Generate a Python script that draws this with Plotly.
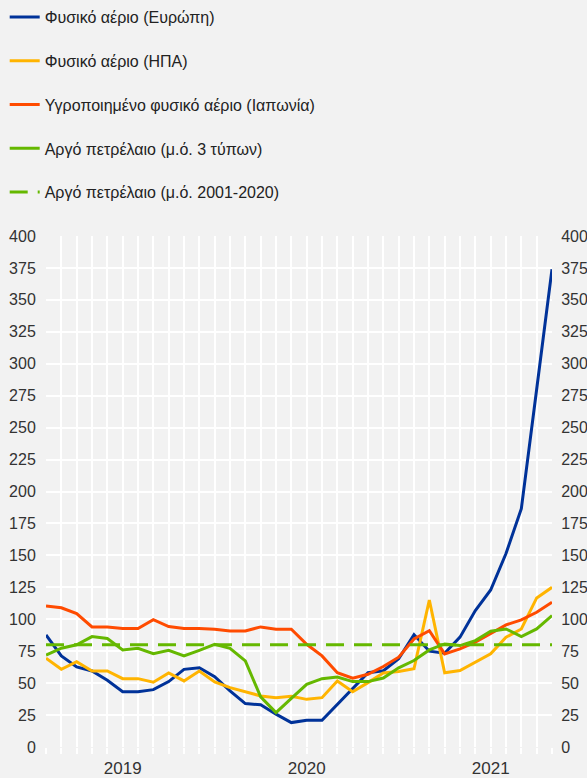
import plotly.graph_objects as go

months = [f"{y}-{m:02d}" for y in (2019, 2020, 2021) for m in range(1, 13)][:34]
year_labels = {"2019-06": "2019", "2020-06": "2020", "2021-06": "2021"}
tick_text = [year_labels.get(m, "") for m in months]

gas_europe = [87.7, 71.3, 62.7, 59.5, 52.2, 43.3, 43.3, 44.9, 51.2, 60.8, 62.1, 55.0,
              43.9, 34.0, 33.0, 25.7, 19.1, 20.9, 20.9, 33.4, 46.5, 58.2, 59.7, 69.0,
              88.0, 75.0, 73.4, 86.0, 106.8, 122.9, 151.4, 186.6, 280.0, 374.0]
gas_us = [69.5, 60.8, 66.8, 59.5, 59.5, 53.5, 53.5, 50.7, 58.0, 51.7, 59.5, 51.0,
          46.5, 43.3, 40.0, 38.6, 39.7, 37.3, 38.6, 51.7, 43.3, 50.4, 58.0, 59.1,
          61.2, 115.1, 58.1, 59.9, 66.4, 72.9, 85.9, 92.4, 116.7, 125.0]
lng_japan = [110.4, 109.0, 104.4, 94.0, 94.0, 92.7, 92.7, 99.7, 94.3, 92.7, 92.7, 92.2,
             90.9, 90.9, 94.0, 92.2, 92.2, 80.4, 71.3, 58.2, 53.8, 56.9, 63.0, 70.3,
             84.6, 91.1, 72.9, 76.8, 82.0, 89.0, 95.6, 99.5, 105.5, 113.3]
crude_oil = [72.0, 77.3, 80.0, 86.4, 84.9, 76.0, 77.3, 73.1, 75.7, 71.3, 75.7, 80.4,
             77.3, 67.4, 39.2, 26.9, 38.1, 49.1, 53.5, 54.8, 51.2, 51.2, 54.0, 62.0,
             67.7, 76.0, 80.7, 79.4, 83.3, 90.6, 92.4, 86.5, 92.4, 102.9]
crude_oil_avg = [80.0] * len(months)

names = ["Φυσικό αέριο (Ευρώπη)", "Φυσικό αέριο (ΗΠΑ)",
         "Υγροποιημένο φυσικό αέριο (Ιαπωνία)", "Αργό πετρέλαιο (μ.ό. 3 τύπων)",
         "Αργό πετρέλαιο (μ.ό. 2001-2020)"]
colors = ["#003299", "#FFB400", "#FF4B00", "#65B800", "#65B800"]
series = [gas_europe, gas_us, lng_japan, crude_oil, crude_oil_avg]

fig = go.Figure()
for i, (n, c, s) in enumerate(zip(names, colors, series)):
    fig.add_trace(go.Scatter(
        x=months, y=s, name=n, mode="lines", legendgroup=f"g{i}",
        line=dict(color=c, width=3, dash="18px,10px" if i == 4 else "solid"),
        yaxis="y2" if i == 4 else "y",
    ))

yticks = list(range(0, 401, 25))

fig.update_layout(
    width=587, height=778,
    paper_bgcolor="#F2F2F2", plot_bgcolor="#F2F2F2",
    margin=dict(l=46, r=35, t=236, b=31, pad=0, autoexpand=False),
    font=dict(family="Liberation Sans, Arial, sans-serif", size=16, color="#333333"),
    showlegend=True,
    legend=dict(xref="container", yref="container", x=0.008, y=1.002, xanchor="left", yanchor="top",
                orientation="v", tracegroupgap=20, font=dict(size=16, color="#222222"),
                bgcolor="rgba(0,0,0,0)"),
    xaxis=dict(type="category", range=[0, 33], tickmode="array", tickvals=months, ticktext=tick_text,
               showgrid=True, gridcolor="white", gridwidth=2, ticks="outside", ticklen=6,
               tickcolor="white", tickwidth=2, zeroline=False, showline=False,
               tickfont=dict(size=17), ticklabelstandoff=0),
    yaxis=dict(range=[0, 400], tickvals=yticks, showgrid=True, gridcolor="white", gridwidth=2,
               zeroline=False, showline=False, ticks="outside", ticklen=6, tickcolor="rgba(0,0,0,0)",
               tickfont=dict(size=16)),
    yaxis2=dict(range=[0, 400], tickvals=yticks, overlaying="y", side="right", showgrid=False,
                zeroline=False, showline=False, ticks="outside", ticklen=5, tickcolor="rgba(0,0,0,0)",
                tickfont=dict(size=16)),
)

fig.write_html("out.html", config={"displayModeBar": False},
               post_script="document.body.style.margin='0px';")
